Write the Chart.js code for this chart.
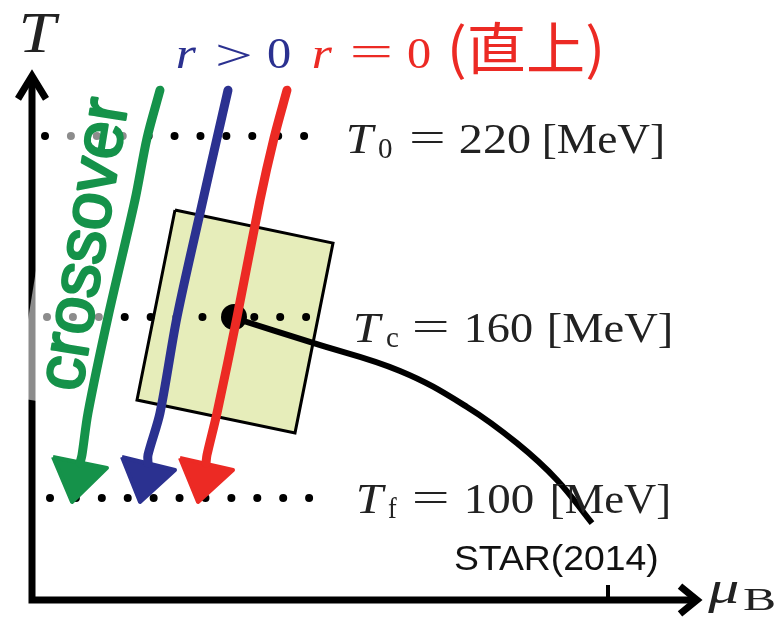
<!DOCTYPE html>
<html>
<head>
<meta charset="utf-8">
<script src="https://cdn.jsdelivr.net/npm/chart.js@4.4.1/dist/chart.umd.min.js"></script>
<style>
  html, body { margin:0; padding:0; background:#fff; }
  #wrap { width:780px; height:619px; }
</style>
</head>
<body>
<div id="wrap"><canvas id="phase" width="780" height="619"></canvas></div>
<script>
// x = mu_B (schematic units), y = T [MeV]
const levelT = [220, 160, 100];
const levelSub = ['0', 'c', 'f'];
const levelFromMu = [45, 47, 50];
const levelToMu = [330, 332, 334];

// r-arrows (hand drawn in the original), top -> bottom
const greenMu = [160, 147, 135, 108, 88, 82, 80];
const greenT  = [235.2, 219.3, 198.8, 160, 128.2, 114.3, 111.6];
const blueMu  = [228, 217, 203, 177, 160, 148, 148];
const blueT   = [235.2, 219.3, 198.8, 160, 128.2, 114.3, 111.6];
const redMu   = [287, 274, 260, 237, 217, 207, 206];
const redT    = [235.2, 219.3, 198.8, 160, 128.2, 114.3, 111.6];

// arrow heads (left corner, right corner, tip)
const greenHeadMu = [53, 107, 72, 53];
const greenHeadT  = [113.6, 110.0, 98.7, 113.6];
const blueHeadMu  = [122, 175, 140, 122];
const blueHeadT   = [113.6, 109.3, 98.7, 113.6];
const redHeadMu   = [180, 233, 198, 180];
const redHeadT    = [113.3, 109.3, 98.7, 113.3];

// error box around the critical point
const boxMu = [175, 333, 295, 137, 175];
const boxT  = [195.5, 184.5, 121.6, 132.5, 195.5];

// crossover line STAR(2014) from the critical point
const curveMu = [235, 313, 400, 467, 517, 557, 592];
const curveT  = [159.6, 151.4, 142.1, 130.2, 118.2, 106.0, 91.7];
const critMu = [234];
const critT  = [160];

// axes
const axisMu = [32, 32, 697];
const axisT  = [239.9, 66.2, 66.2];
const yHeadMu = [18, 32, 46];
const yHeadT  = [232.3, 239.9, 232.3];
const xHeadMu = [680, 697, 680];
const xHeadT  = [70.8, 66.2, 61.6];
const tickMu = [608, 608];
const tickT  = [71.2, 66.2];

const GREEN = '#15924a', BLUE = '#2b3190', RED = '#ec2a24';

function pts(xs, ys) {
  return xs.map(function(x, i){ return { x:x, y:ys[i] }; });
}
function lineDs(xs, ys, color, width, order, extra) {
  return Object.assign({
    data: pts(xs, ys), borderColor: color, borderWidth: width,
    pointRadius: 0, fill: false, order: order
  }, extra || {});
}

const datasets = [];
// axes
datasets.push(lineDs(axisMu, axisT, '#000', 7, 6, { borderJoinStyle:'miter' }));
datasets.push(lineDs(yHeadMu, yHeadT, '#000', 7, 6, { borderJoinStyle:'miter' }));
datasets.push(lineDs(xHeadMu, xHeadT, '#000', 7, 6, { borderJoinStyle:'miter' }));
datasets.push(lineDs(tickMu, tickT, '#000', 4, 6));
// box
datasets.push(lineDs(boxMu, boxT, '#000', 3, 7, {
  fill: 'shape', backgroundColor: '#e6edba', borderJoinStyle:'miter'
}));
// dotted levels
levelT.forEach(function(t, i){
  datasets.push(lineDs([levelFromMu[i], levelToMu[i]], [t, t], '#000', 8, 5, {
    borderDash: [0.01, 25.9], borderCapStyle: 'round'
  }));
});
// curve and critical point
datasets.push(lineDs(curveMu, curveT, '#000', 6, 4, { tension: 0.4, borderCapStyle:'butt' }));
datasets.push({
  data: pts(critMu, critT), showLine: false, pointRadius: 13,
  pointBackgroundColor: '#000', pointBorderWidth: 0, order: 3
});
// arrows
[[greenMu, greenT, greenHeadMu, greenHeadT, GREEN],
 [blueMu, blueT, blueHeadMu, blueHeadT, BLUE],
 [redMu, redT, redHeadMu, redHeadT, RED]].forEach(function(a){
  datasets.push(lineDs(a[0], a[1], a[4], 9, 1, {
    tension: 0.3, borderCapStyle:'round', borderJoinStyle:'round'
  }));
  datasets.push(lineDs(a[2], a[3], a[4], 4, 1, {
    fill: 'shape', backgroundColor: a[4], borderJoinStyle:'round'
  }));
});

// text drawn so that its ink spans [x, x + w]
function fitText(ctx, txt, x, base, w, font, color) {
  ctx.save();
  ctx.font = font;
  ctx.fillStyle = color;
  ctx.textBaseline = 'alphabetic';
  const m = ctx.measureText(txt);
  const ink = m.actualBoundingBoxLeft + m.actualBoundingBoxRight;
  const s = w / ink;
  ctx.translate(x + m.actualBoundingBoxLeft * s, base);
  ctx.scale(s, 1);
  ctx.fillText(txt, 0, 0);
  ctx.restore();
}

const SERIF = '"Liberation Serif", "DejaVu Serif", serif';
const SANS = '"Liberation Sans", Arial, sans-serif';

// crossover with its translucent backing (under the arrows, over dots and axis)
function drawCrossover(ctx) {
  ctx.save();
  ctx.translate(81, 393);
  ctx.rotate(-80.8 * Math.PI / 180);
  ctx.font = '68px ' + SANS;
  const w = ctx.measureText('crossover').width;
  ctx.fillStyle = 'rgba(255,255,255,0.55)';
  ctx.fillRect(-15, -64, w + 27, 77);
  ctx.fillStyle = GREEN;
  ctx.strokeStyle = GREEN;
  ctx.lineWidth = 2.5;
  ctx.lineJoin = 'round';
  ctx.fillText('crossover', 0, 0);
  ctx.strokeText('crossover', 0, 0);
  ctx.restore();
}

// label layout: [baseline, T x, T w, sub x, sub w, eq x, eq w, num x, num w, unit x, unit w]
const rowLayout = [
  [153, 348, 28, 379, 13, 412, 31, 460, 70, 545, 117],
  [342, 355, 28, 387, 11, 415, 32, 467, 65, 550, 120],
  [513, 358, 28, 388, 9, 415, 32, 467, 66, 553, 115]
];

let backingDone = false;
const labelPlugin = {
  id: 'labels',
  beforeDatasetsDraw: function() { backingDone = false; },
  beforeDatasetDraw: function(chart, args) {
    if (!backingDone && chart.data.datasets[args.index].order === 1) {
      drawCrossover(chart.ctx);
      backingDone = true;
    }
  },
  afterDatasetsDraw: function(chart) {
    const ctx = chart.ctx;

    // level labels
    rowLayout.forEach(function(r, i){
      const c = '#222';
      fitText(ctx, 'T', r[1], r[0], r[2], 'italic 42px ' + SERIF, c);
      fitText(ctx, levelSub[i], r[3], r[0] + 5, r[4], '29px ' + SERIF, c);
      fitText(ctx, '=', r[5], r[0] - 2, r[6], '42px ' + SERIF, c);
      fitText(ctx, String(levelT[i]), r[7], r[0], r[8], '42px ' + SERIF, c);
      fitText(ctx, '[MeV]', r[9], r[0], r[10], '42px ' + SERIF, c);
    });

    // r labels
    fitText(ctx, 'r', 177, 68, 20, 'italic 44px ' + SERIF, BLUE);
    fitText(ctx, '>', 218, 70, 32, '44px ' + SERIF, BLUE);
    fitText(ctx, '0', 268, 68, 22, '44px ' + SERIF, BLUE);
    fitText(ctx, 'r', 313, 68, 20, 'italic 44px ' + SERIF, RED);
    fitText(ctx, '=', 353, 66, 37, '44px ' + SERIF, RED);
    fitText(ctx, '0', 408, 68, 22, '44px ' + SERIF, RED);
    fitText(ctx, '(直上)', 452, 69, 148, '56px "Noto Sans CJK JP", sans-serif', RED);

    // axis titles
    fitText(ctx, 'T', 22, 52, 38, 'italic 58px ' + SERIF, '#222');
    fitText(ctx, 'μ', 707, 603, 31, 'italic 46px ' + SERIF, '#222');
    fitText(ctx, 'B', 743, 610, 31, '32px ' + SERIF, '#222');

    fitText(ctx, 'STAR(2014)', 455, 570, 202, '35px ' + SANS, '#111');
  }
};

new Chart(document.getElementById('phase'), {
  type: 'line',
  data: { datasets: datasets },
  options: {
    responsive: false,
    animation: false,
    events: [],
    layout: { padding: 0, autoPadding: false },
    plugins: { legend: { display:false }, tooltip: { enabled:false } },
    scales: {
      x: { type:'linear', min:0, max:780, display:false },
      y: { type:'linear', min:59.9, max:265.1, display:false }
    }
  },
  plugins: [labelPlugin]
});
</script>
</body>
</html>
